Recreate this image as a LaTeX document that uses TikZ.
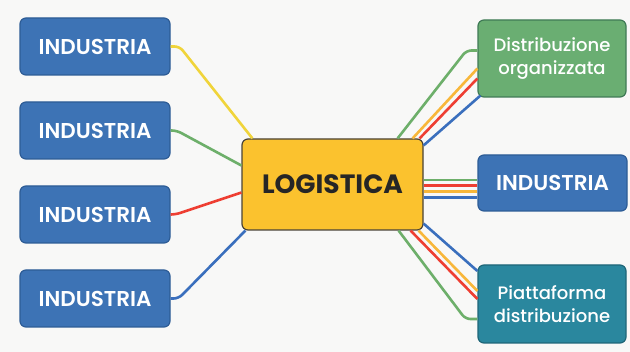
\documentclass[tikz,border=0pt]{standalone}
\usepackage{fontspec}
\setmainfont{Poppins}
\newfontfamily\medfont{Poppins Medium}
\newfontfamily\semifont{Poppins SemiBold}
\usetikzlibrary{calc}

\definecolor{bgcol}{HTML}{F8F8F7}
\definecolor{indfill}{HTML}{3D73B5}
\definecolor{inddraw}{HTML}{2D5C96}
\definecolor{gdofill}{HTML}{6AAE72}
\definecolor{gdodraw}{HTML}{3F7A55}
\definecolor{piafill}{HTML}{2A879E}
\definecolor{piadraw}{HTML}{1F6678}
\definecolor{logfill}{HTML}{FBC22E}
\definecolor{logdraw}{HTML}{4A4337}
\definecolor{lnyellow}{HTML}{F0D43A}
\definecolor{lngreen}{HTML}{6DAF6A}
\definecolor{lnred}{HTML}{EE3E32}
\definecolor{lnblue}{HTML}{3A6FBD}
\definecolor{lnorange}{HTML}{F8B73A}

\tikzset{
  box/.style={rounded corners=6pt, line width=1.2pt, align=center, inner sep=0pt},
  indbox/.style={box, fill=indfill, draw=inddraw, text=white, minimum width=150pt, minimum height=57pt, font=\fontsize{21.5}{22}\semifont},
  sidebox/.style={box, text=white, minimum width=148pt, minimum height=77pt, font=\fontsize{18}{23}\medfont},
  wire/.style={line width=2.6pt, rounded corners=5pt},
}

\begin{document}
\begin{tikzpicture}[x=1pt,y=-1pt]
        \fill[bgcol] (0,0) rectangle (630,352);
        \useasboundingbox (0,0) rectangle (630,352);
        % centre
        \node[box, fill=logfill, draw=logdraw, minimum width=181pt, minimum height=91pt, font=\fontsize{26.5}{28}\selectfont\bfseries, text=black!85] (logi) at (332.5,184.5) {LOGISTICA};
        % left side
        \node[indbox] (ind1) at (95,46.5) {INDUSTRIA};
        \node[indbox] (ind2) at (95,130.5) {INDUSTRIA};
        \node[indbox] (ind3) at (95,214.5) {INDUSTRIA};
        \node[indbox] (ind4) at (95,298.5) {INDUSTRIA};
        % right side
        \node[sidebox, fill=gdofill, draw=gdodraw] (gdo) at (552,58.5) {Distribuzione\\organizzata};
        \node[indbox, minimum width=149pt, minimum height=56pt] (ind5) at (552.5,183) {INDUSTRIA};
        \node[sidebox, fill=piafill, draw=piadraw, minimum height=78pt] (pia) at (552,304) {Piattaforma\\distribuzione};
        % left wires
        \draw[wire, lnyellow] (ind1.east) -- ++(9,0) -- ($(logi.north west)+(11,0)$);
        \draw[wire, lngreen] (ind2.east) -- ++(6,0) -- ($(logi.west)+(0,-19)$);
        \draw[wire, lnred] (ind3.east) -- ++(5,0) -- ($(logi.west)+(0,8)$);
        \draw[wire, lnblue] (ind4.east) -- ++(8,0) -- ($(logi.south west)+(4,0)$);
        % to gdo
        \draw[wire, lngreen] ($(logi.north east)+(-26,0)$) -- ($(gdo.west)+(-11,-8)$) -- ($(gdo.west)+(0,-8)$);
        \draw[wire, lnorange] ($(logi.north east)+(-11,0)$) -- ($(gdo.west)+(0,10)$);
        \draw[wire, lnred] ($(logi.north east)+(-4,0)$) -- ($(gdo.west)+(0,20)$);
        \draw[wire, lnblue] ($(logi.north east)+(0,7)$) -- ($(gdo.south west)+(3,-2)$);
        % to ind5
        \draw[wire, lngreen] ($(logi.east)+(0,-4.5)$) -- ($(ind5.west)+(0,-3)$);
        \draw[wire, lnred] ($(logi.east)+(0,1)$) -- ($(ind5.west)+(0,2.5)$);
        \draw[wire, lnorange] ($(logi.east)+(0,7)$) -- ($(ind5.west)+(0,8.5)$);
        \draw[wire, lnblue] ($(logi.east)+(0,13)$) -- ($(ind5.west)+(0,14.5)$);
        % to pia
        \draw[wire, lnblue] ($(logi.south east)+(0,-7)$) -- ($(pia.west)+(0,-33)$);
        \draw[wire, lnorange] ($(logi.south east)+(-5,0)$) -- ($(pia.west)+(0,-13)$);
        \draw[wire, lnred] ($(logi.south east)+(-13,0)$) -- ($(pia.west)+(0,-5)$);
        \draw[wire, lngreen] ($(logi.south east)+(-25,0)$) -- ($(pia.west)+(-12,15)$) -- ($(pia.west)+(0,15)$);
\end{tikzpicture}
\end{document}
